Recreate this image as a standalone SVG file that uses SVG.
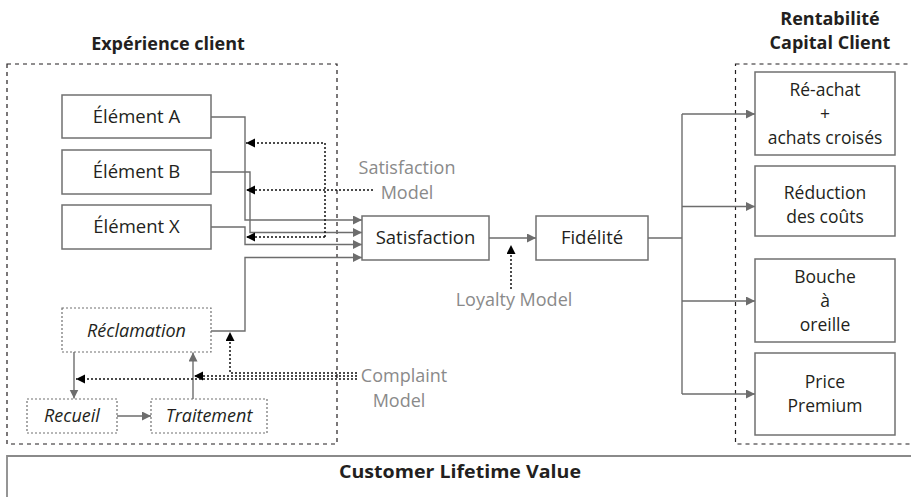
<svg xmlns="http://www.w3.org/2000/svg" width="911" height="497" viewBox="0 0 911 497">
  <style>
    text { font-family: "Open Sans", "Noto Sans", "DejaVu Sans", sans-serif; fill: #231f20; }
    .title { font-size: 18px; font-weight: bold; text-anchor: middle; }
    .lbl { font-size: 17.5px; text-anchor: middle; }
    .el { font-size: 18.5px; text-anchor: middle; }
    .it { font-size: 18px; font-style: italic; text-anchor: middle; }
    .model { font-size: 18px; text-anchor: middle; fill: #8a8a8a; }
    .frame { fill: none; stroke: #231f20; stroke-width: 1.2; stroke-dasharray: 4 4; }
    .box { fill: #fff; stroke: #707070; stroke-width: 1.5; }
    .dbox { fill: #fff; stroke: #707070; stroke-width: 1.2; stroke-dasharray: 2 2; }
    .link { fill: none; stroke: #6d6d6d; stroke-width: 1.4; }
    .dot { fill: none; stroke: #111; stroke-width: 1.5; stroke-dasharray: 2 2; }
  </style>
  <defs>
    <marker id="ag" markerUnits="userSpaceOnUse" markerWidth="10" markerHeight="10" refX="9" refY="4.5" orient="auto">
      <path d="M0,0 L9,4.5 L0,9 z" fill="#6d6d6d"/>
    </marker>
    <marker id="ab" markerUnits="userSpaceOnUse" markerWidth="10" markerHeight="10" refX="9" refY="4.5" orient="auto">
      <path d="M0,0 L9,4.5 L0,9 z" fill="#000"/>
    </marker>
  </defs>

  <!-- frames and headings -->
  <g id="experience-frame">
    <rect class="frame" x="7" y="64" width="330" height="380"/>
    <text class="title" x="168" y="50">Expérience client</text>
  </g>
  <g id="rentabilite-frame">
    <rect class="frame" x="735.5" y="64" width="185" height="380"/>
    <text class="title"><tspan x="830" y="24.5">Rentabilité</tspan><tspan x="830" y="49">Capital Client</tspan></text>
  </g>
  <g id="clv">
    <path d="M7,497 L7,456 L911,456" fill="none" stroke="#8a8a8a" stroke-width="1.8"/>
    <text class="title" x="460" y="478" textLength="242" lengthAdjust="spacingAndGlyphs">Customer Lifetime Value</text>
  </g>

  <!-- connectors -->
  <g id="connectors">
    <path class="link" d="M211,117 H245 V220 H362" marker-end="url(#ag)"/>
    <path class="link" d="M211,172 H250 V232.5 H362" marker-end="url(#ag)"/>
    <path class="link" d="M211,227 H245 V244.5 H362" marker-end="url(#ag)"/>
    <path class="link" d="M211,331 H245 V257.5 H362" marker-end="url(#ag)"/>
    <path class="link" d="M489,238 H536" marker-end="url(#ag)"/>
    <path class="link" d="M648,238 H682"/>
    <path class="link" d="M682,114 V394"/>
    <path class="link" d="M682,114 H755" marker-end="url(#ag)"/>
    <path class="link" d="M682,206.5 H755" marker-end="url(#ag)"/>
    <path class="link" d="M682,301 H755" marker-end="url(#ag)"/>
    <path class="link" d="M682,394 H755" marker-end="url(#ag)"/>
    <path class="link" d="M74,352 V398.5" marker-end="url(#ag)"/>
    <path class="link" d="M117,416 H151" marker-end="url(#ag)"/>
    <path class="link" d="M193,399 V352.5" marker-end="url(#ag)"/>

    <!-- satisfaction model feedback -->
    <path class="dot" d="M325,237 V143 H246" marker-end="url(#ab)"/>
    <path class="dot" d="M373,190 H246" marker-end="url(#ab)"/>
    <path class="dot" d="M325,237 H246" marker-end="url(#ab)"/>
    <!-- loyalty model -->
    <path class="dot" d="M511,289 V245" marker-end="url(#ab)"/>
    <!-- complaint model -->
    <path class="dot" d="M357,373 H230 V332" marker-end="url(#ab)"/>
    <path class="dot" d="M357,376 H194" marker-end="url(#ab)"/>
    <path class="dot" d="M357,379 H76" marker-end="url(#ab)"/>
  </g>

  <!-- model labels -->
  <g id="satisfaction-model">
    <text class="model"><tspan x="407" y="174">Satisfaction</tspan><tspan x="407" y="199">Model</tspan></text>
  </g>
  <g id="loyalty-model">
    <text class="model" x="514" y="306">Loyalty Model</text>
  </g>
  <g id="complaint-model">
    <text class="model"><tspan x="404" y="382">Complaint</tspan><tspan x="399" y="407">Model</tspan></text>
  </g>

  <!-- nodes -->
  <g id="element-a">
    <rect class="box" x="62" y="95" width="149" height="43"/>
    <text class="el" x="136.5" y="123">Élément A</text>
  </g>
  <g id="element-b">
    <rect class="box" x="62" y="150" width="149" height="44"/>
    <text class="el" x="136.5" y="178">Élément B</text>
  </g>
  <g id="element-x">
    <rect class="box" x="62" y="205" width="149" height="44"/>
    <text class="el" x="136.5" y="233">Élément X</text>
  </g>
  <g id="reclamation">
    <rect class="dbox" x="62" y="308" width="149" height="44"/>
    <text class="it" x="136.5" y="337">Réclamation</text>
  </g>
  <g id="recueil">
    <rect class="dbox" x="27" y="399" width="90" height="34"/>
    <text class="it" x="72" y="422">Recueil</text>
  </g>
  <g id="traitement">
    <rect class="dbox" x="151" y="399" width="116" height="34"/>
    <text class="it" x="209" y="422">Traitement</text>
  </g>
  <g id="satisfaction">
    <rect class="box" x="362" y="216" width="127" height="44"/>
    <text class="el" x="425.5" y="244">Satisfaction</text>
  </g>
  <g id="fidelite">
    <rect class="box" x="536" y="216" width="112" height="44"/>
    <text class="el" x="592" y="244">Fidélité</text>
  </g>
  <g id="reachat">
    <rect class="box" x="755" y="72" width="140" height="83"/>
    <text class="lbl"><tspan x="825" y="95.5">Ré-achat</tspan><tspan x="825" y="119.5">+</tspan><tspan x="825" y="143.5">achats croisés</tspan></text>
  </g>
  <g id="reduction">
    <rect class="box" x="755" y="166" width="140" height="70"/>
    <text class="lbl"><tspan x="825" y="199">Réduction</tspan><tspan x="825" y="223">des coûts</tspan></text>
  </g>
  <g id="bouche">
    <rect class="box" x="755" y="259" width="140" height="83"/>
    <text class="lbl"><tspan x="825" y="283">Bouche</tspan><tspan x="825" y="307">à</tspan><tspan x="825" y="331">oreille</tspan></text>
  </g>
  <g id="price">
    <rect class="box" x="755" y="353" width="140" height="82"/>
    <text class="lbl"><tspan x="825" y="388">Price</tspan><tspan x="825" y="412">Premium</tspan></text>
  </g>
</svg>
